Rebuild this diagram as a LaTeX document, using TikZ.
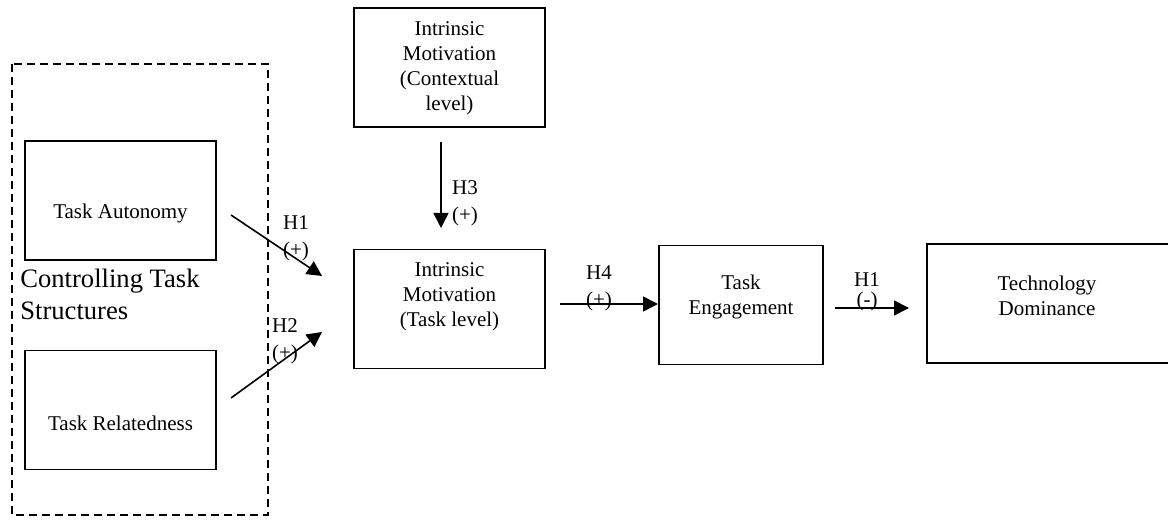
\documentclass[tikz,border=0pt]{standalone}
\usepackage{fontspec}
\setmainfont{Liberation Serif}
\usetikzlibrary{arrows.meta}

\begin{document}
\begin{tikzpicture}[x=0.5pt, y=-0.5pt, >={Triangle[length=7.5pt,width=7.5pt]}]
  \tikzstyle{every node} = [inner sep = 0,
			    font = \fontsize{10.5}{12.5}\selectfont]
  \tikzstyle{box} = [draw, line width = 0.8pt,
		     minimum width = 95.5pt,
		     minimum height = 59.5pt]
  \tikzstyle{txt} = [align = center]
  \tikzstyle{hyp} = [align = center, font = \fontsize{10.5}{13.5}\selectfont]
  \tikzstyle{link} = [line width = 0.8pt, ->]
\useasboundingbox (0,0) rectangle (1168,523);

% controlling task structures
\draw[line width = 0.8pt, dash pattern = on 4pt off 2.5pt] (12,64) rectangle (268,515);
\node[box] (TA) at (120.5,200.5) {};
\node[txt] (TAt) at (120.5,213) {Task Autonomy};
\node[box] (TR) at (120.5,410) {};
\node[txt] (TRt) at (120.5,423) {Task Relatedness};
\node[anchor = west, align = left,
      font = \fontsize{13.3}{16}\selectfont] (CTS) at (20,294) {Controlling Task\\Structures};

% motivation
\node[box] (IMC) at (449.5,67.5) {};
\node[txt] (IMCt) at (449.5,68) {Intrinsic\\Motivation\\(Contextual\\level)};
\node[box] (IMT) at (449.5,309) {};
\node[txt] (IMTt) at (449.5,297) {Intrinsic\\Motivation\\(Task level)};

% outcomes
\node[box, minimum width = 82pt] (TE) at (741,305) {};
\node[txt] (TEt) at (741,297) {Task\\Engagement};
\node[box, minimum width = 123pt] (TD) at (1050,303.5) {};
\node[txt] (TDt) at (1047,296) {Technology\\Dominance};

% free ends of the arrows
\coordinate (h1a) at (231,215);
\coordinate (h1b) at (322,276);
\coordinate (h2a) at (231,398);
\coordinate (h2b) at (322,332);
\coordinate (h3a) at (441,142);
\coordinate (h3b) at (441,228);
\coordinate (h4a) at (560,304);
\coordinate (h4b) at (658,304);
\coordinate (h5a) at (835,308);
\coordinate (h5b) at (909,308);

\draw[link] (h1a) -- (h1b);
\draw[link] (h2a) -- (h2b);
\draw[link] (h3a) -- (h3b);
\draw[link] (h4a) -- (h4b);
\draw[link] (h5a) -- (h5b);

\node[hyp] (H1) at (296,238.5) {H1\\(+)};
\node[hyp] (H2) at (285,341.5) {H2\\(+)};
\node[hyp] (H3) at (465,203) {H3\\(+)};
\node[hyp] (H4) at (599,288.5) {H4\\(+)};
\node[hyp, font = \fontsize{10.5}{10}\selectfont] (H5) at (867,292) {H1\\(-)};

\end{tikzpicture}
\end{document}
